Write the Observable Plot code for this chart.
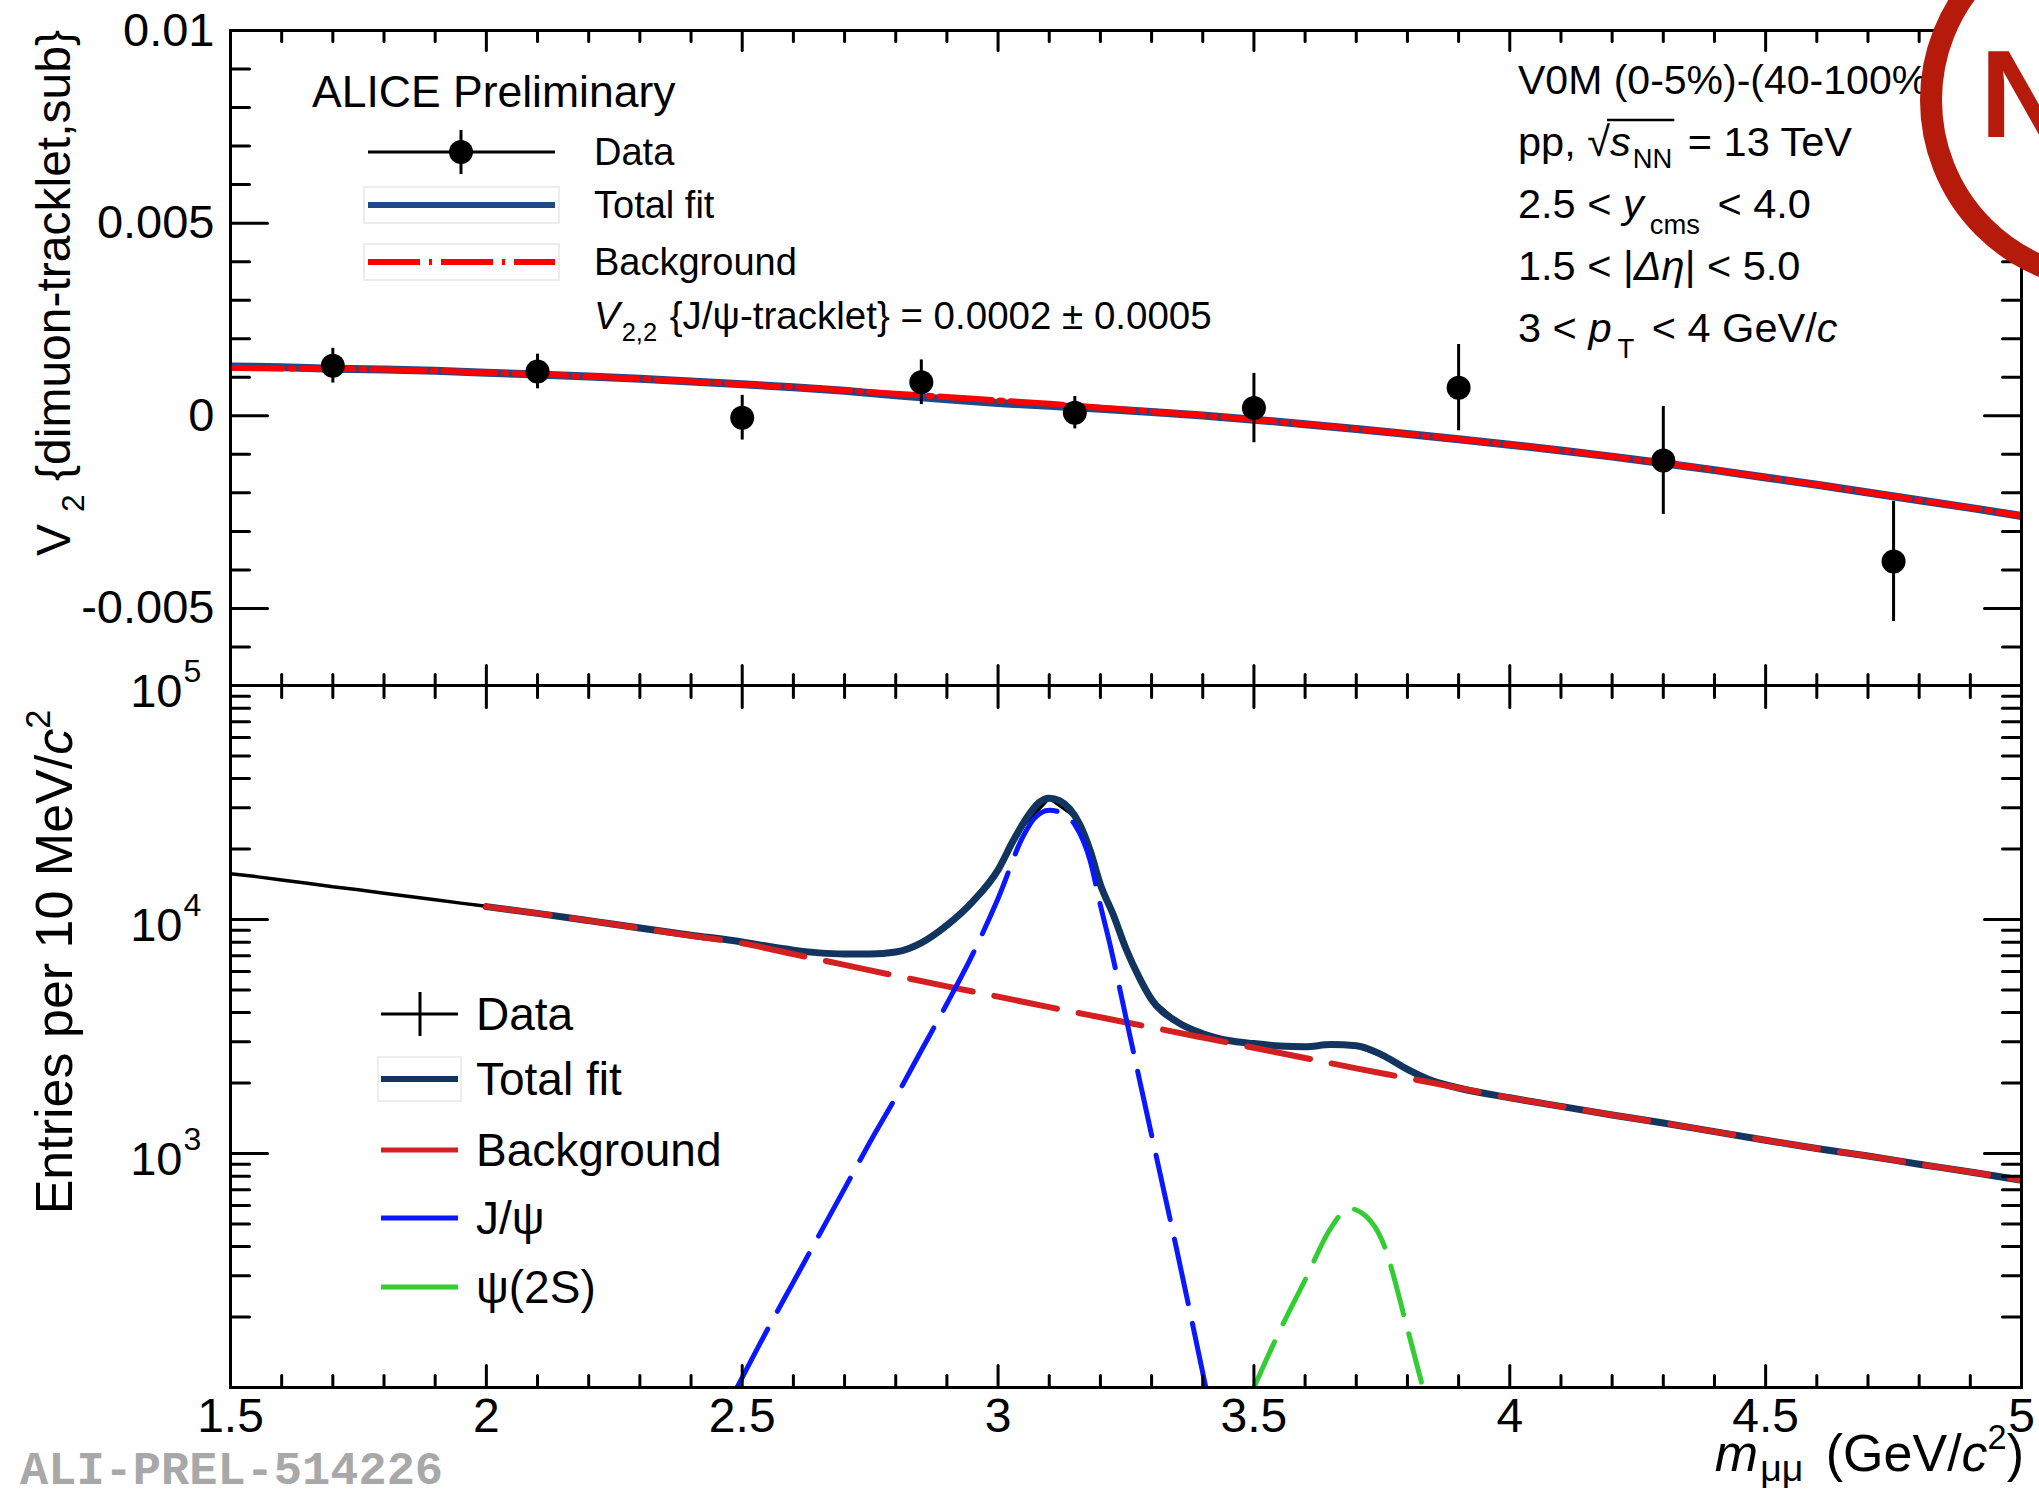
<!DOCTYPE html>
<html>
<head>
<meta charset="utf-8">
<script src="https://cdn.jsdelivr.net/npm/d3@7"></script>
<script src="https://cdn.jsdelivr.net/npm/@observablehq/plot@0.6"></script>
<style>
  html, body { margin: 0; padding: 0; background: #fff; }
  #chart { position: relative; width: 2039px; height: 1496px; background: #fff; overflow: hidden; }
  #chart svg { position: absolute; left: 0; }
</style>
</head>
<body>
<div id="chart"></div>
<script>
// ===================== DATA =====================
// Upper panel: V2 {dimuon-tracklet,sub} vs m_mumu
const v2Mass  = [1.7, 2.1, 2.5, 2.85, 3.15, 3.5, 3.9, 4.3, 4.75];
const v2Value = [0.00130, 0.00115, -0.00005, 0.00087, 0.00008, 0.00020, 0.00073, -0.00116, -0.00378];
const v2Error = [0.00045, 0.00045, 0.00058, 0.00058, 0.00042, 0.00090, 0.00112, 0.00140, 0.00156];

const v2FitMass = [1.5,1.6,1.7,1.8,1.9,2.0,2.1,2.2,2.3,2.4,2.5,2.6,2.7,2.8,2.9,3.0,3.1,3.2,3.3,3.4,3.5,3.6,3.7,3.8,3.9,4.0,4.1,4.2,4.3,4.4,4.5,4.6,4.7,4.8,4.9,5.0];
const v2Background = [0.00124,0.00123,0.00122,0.00120,0.00117,0.00112,0.00108,0.00102,0.00096,0.00089,0.00082,0.00074,0.00066,0.00057,0.00049,0.00040,0.00031,0.00021,0.00011,0.00001,-0.00010,-0.00022,-0.00034,-0.00047,-0.00061,-0.00075,-0.00090,-0.00106,-0.00123,-0.00141,-0.00160,-0.00179,-0.00199,-0.00219,-0.00239,-0.00260];
const v2TotalFit   = [0.00128,0.00126,0.00122,0.00120,0.00117,0.00112,0.00107,0.00102,0.00096,0.00089,0.00082,0.00074,0.00065,0.00053,0.00043,0.00033,0.00026,0.00018,0.00010,0.00001,-0.00010,-0.00022,-0.00034,-0.00047,-0.00061,-0.00075,-0.00090,-0.00106,-0.00123,-0.00141,-0.00160,-0.00179,-0.00199,-0.00219,-0.00239,-0.00260];

// Lower panel: entries per 10 MeV/c^2 vs m_mumu
const dataMass = [1.50,1.55,1.60,1.65,1.70,1.75,1.80,1.85,1.90,1.95,2.00,2.05,2.10,2.15,2.20,2.25,2.30,2.35,2.40,2.45,2.50,2.55,2.60,2.65,2.70,2.75,2.80,2.85,2.90,2.95,3.00,3.05,3.10,3.15,3.20,3.25,3.30,3.35,3.40,3.45,3.50,3.55,3.60,3.65,3.70,3.75,3.80,3.85,3.90,3.95,4.00,4.05,4.10,4.15,4.20,4.25,4.30,4.35,4.40,4.45,4.50,4.55,4.60,4.65,4.70,4.75,4.80,4.85,4.90,4.95,5.00];
const dataCounts = [15700,15250,14750,14300,13800,13400,12950,12550,12150,11750,11400,10950,10650,10230,9900,9500,9200,8880,8560,8300,8000,7700,7400,7180,7130,7100,7270,7950,9400,11900,16400,25300,33000,27600,14000,7450,4560,3660,3240,3050,2940,2900,2850,2930,2880,2620,2300,2050,1890,1830,1720,1680,1580,1530,1450,1410,1340,1300,1250,1180,1150,1090,1060,1005,980,930,905,860,840,795,775];

const totalMass   = [2.00,2.10,2.20,2.30,2.40,2.50,2.55,2.60,2.65,2.70,2.75,2.80,2.85,2.90,2.95,3.00,3.03,3.06,3.08,3.10,3.12,3.14,3.16,3.18,3.20,3.225,3.25,3.275,3.30,3.35,3.40,3.45,3.50,3.55,3.60,3.65,3.70,3.75,3.80,3.85,3.90,4.00,4.10,4.20,4.30,4.40,4.50,4.60,4.70,4.80,4.90,5.00];
const totalCounts = [11350,10620,9890,9190,8570,8020,7680,7400,7200,7120,7120,7260,7950,9450,11900,16300,21800,28000,31600,33000,32200,29700,25400,19700,14100,10500,7500,5700,4550,3650,3250,3040,2950,2880,2860,2920,2890,2640,2290,2040,1905,1730,1590,1460,1350,1240,1140,1050,975,900,834,769];

const bkgMass   = [2.0,2.1,2.2,2.3,2.4,2.5,2.6,2.7,2.8,2.9,3.0,3.1,3.2,3.3,3.4,3.5,3.6,3.7,3.8,3.9,4.0,4.1,4.2,4.3,4.4,4.5,4.6,4.7,4.8,4.9,5.0];
const bkgCounts = [11350,10620,9890,9180,8530,7910,7110,6400,5750,5180,4680,4220,3820,3460,3130,2830,2560,2310,2100,1905,1730,1590,1460,1350,1240,1140,1050,975,900,834,769];

const jpsiMass   = [2.49,2.55,2.60,2.65,2.70,2.75,2.80,2.85,2.90,2.95,3.00,3.05,3.07,3.10,3.13,3.15,3.18,3.20,3.22,3.25,3.28,3.30,3.35,3.406];
const jpsiCounts = [100,178,282,447,708,1122,1738,2754,4365,7080,12300,22900,26900,29300,28200,25400,17800,11500,7600,3800,1900,1200,380,100];

const psi2sMass   = [3.50,3.55,3.60,3.65,3.686,3.72,3.75,3.80,3.83];
const psi2sCounts = [100,174,288,479,582,537,427,178,100];

// Axis ticks and labels
const xMajorTicks = [1.5, 2, 2.5, 3, 3.5, 4, 4.5, 5];
const xTickLabels = ["1.5", "2", "2.5", "3", "3.5", "4", "4.5", "5"];
const v2MajorTicks = [-0.005, 0, 0.005, 0.01];
const v2TickLabels = ["-0.005", "0", "0.005", "0.01"];
const countMajorTicks = [1e3, 1e4, 1e5];
const countTickBase = ["10", "10", "10"];
const countTickExponent = ["3", "4", "5"];

// Legends and annotations
const topLegendLabels = ["Data", "Total fit", "Background"];
const lowLegendLabels = ["Data", "Total fit", "Background", "J/ψ", "ψ(2S)"];

// ===================== STYLE =====================
const W = 2039, H = 1496;
const FONT = '"Liberation Sans", Arial, Helvetica, sans-serif';
const C_TOTAL_TOP = "#1d4b86";
const C_RED_TOP = "#ff0000";
const C_TOTAL = "#12355f";
const C_BKG = "#d42020";
const C_JPSI = "#0a18ff";
const C_PSI2S = "#33cc33";
const C_LOGO = "#b51a0a";

const xMinorTicks = d3.range(15, 51).filter(d => d % 5 !== 0).map(d => d / 10);
const v2MinorTicks = d3.range(-6, 10).filter(d => d % 5 !== 0).map(d => d / 1000);
const countMinorTicks = [100, 1000, 10000].flatMap(b => d3.range(2, 10).map(k => k * b));

const tickShape = {draw(ctx, l) { ctx.moveTo(0, 0); ctx.lineTo(0, -l); }};
function yTicks(values, len, side) {
  return Plot.vector(values, {y: d => d, frameAnchor: side, rotate: side === "left" ? 90 : -90,
    length: len, anchor: "start", shape: tickShape, stroke: "black", strokeWidth: 3});
}
function xTicks(values, len, side) {
  return Plot.vector(values, {x: d => d, frameAnchor: side, rotate: side === "bottom" ? 0 : 180,
    length: len, anchor: "start", shape: tickShape, stroke: "black", strokeWidth: 3});
}
function frameMarks(yMajor, yMinor, xLen) {
  return [
    Plot.frame({stroke: "black", strokeWidth: 3}),
    yTicks(yMajor, 37, "left"), yTicks(yMinor, 19, "left"),
    yTicks(yMajor, 37, "right"), yTicks(yMinor, 19, "right"),
    xTicks(xMajorTicks, xLen, "bottom"), xTicks(xMinorTicks, Math.round(xLen * 0.55), "bottom"),
    xTicks(xMajorTicks, xLen, "top"), xTicks(xMinorTicks, Math.round(xLen * 0.55), "top")
  ];
}

const xLabel = new Map(xMajorTicks.map((d, i) => [d, xTickLabels[i]]));
const v2Label = new Map(v2MajorTicks.map((d, i) => [d, v2TickLabels[i]]));
const countBase = new Map(countMajorTicks.map((d, i) => [d, countTickBase[i]]));
const countExp = new Map(countMajorTicks.map((d, i) => [d, countTickExponent[i]]));

// ===================== TABLES =====================
const v2Points = v2Mass.map((m, i) => ({m, v: v2Value[i], e: v2Error[i]}));
const v2Fit = v2FitMass.map((m, i) => ({m, bkg: v2Background[i], tot: v2TotalFit[i]}));
const dataRows = dataMass.map((m, i) => ({m, n: dataCounts[i]}));
const totalRows = totalMass.map((m, i) => ({m, n: totalCounts[i]}));
const bkgRows = bkgMass.map((m, i) => ({m, n: bkgCounts[i]}));
const jpsiRows = jpsiMass.map((m, i) => ({m, n: jpsiCounts[i]}));
const psi2sRows = psi2sMass.map((m, i) => ({m, n: psi2sCounts[i]}));

const baseStyle = {background: "transparent", fontFamily: FONT, overflow: "visible", color: "black"};

// ===================== UPPER PANEL =====================
const topChart = Plot.plot({
  width: W, height: 700,
  marginTop: 30, marginBottom: 15, marginLeft: 230, marginRight: 18,
  style: baseStyle,
  x: {domain: [1.5, 5], axis: null},
  y: {domain: [-0.007, 0.01]},
  marks: [
    Plot.line(v2Fit, {x: "m", y: "tot", stroke: C_TOTAL_TOP, strokeWidth: 8, curve: "linear", clip: true}),
    Plot.line(v2Fit, {x: "m", y: "bkg", stroke: C_RED_TOP, strokeWidth: 6, strokeDasharray: "52,8,3,8", curve: "monotone-x", clip: true}),
    Plot.ruleX(v2Points, {x: "m", y1: d => d.v - d.e, y2: d => d.v + d.e, stroke: "black", strokeWidth: 3}),
    Plot.dot(v2Points, {x: "m", y: "v", r: 12, fill: "black", stroke: "none"}),
    ...frameMarks(v2MajorTicks, v2MinorTicks, 20),
    Plot.axisY({ticks: v2MajorTicks, tickSize: 0, tickPadding: 16, tickFormat: d => v2Label.get(d), fontSize: 47, label: null})
  ]
});

// ===================== LOWER PANEL =====================
const lowChart = Plot.plot({
  width: W, height: 841,
  marginTop: 30, marginBottom: 109, marginLeft: 230, marginRight: 18,
  style: baseStyle,
  x: {domain: [1.5, 5]},
  y: {type: "log", domain: [100, 100000]},
  marks: [
    Plot.line(dataRows, {x: "m", y: "n", stroke: "black", strokeWidth: 3.5, clip: true}),
    Plot.line(totalRows, {x: "m", y: "n", stroke: C_TOTAL, strokeWidth: 7, curve: "monotone-x", clip: true}),
    Plot.line(bkgRows, {x: "m", y: "n", stroke: C_BKG, strokeWidth: 6, strokeDasharray: "64,22", curve: "monotone-x", clip: true}),
    Plot.line(jpsiRows, {x: "m", y: "n", stroke: C_JPSI, strokeWidth: 5, strokeDasharray: "66,20", curve: "monotone-x", clip: true}),
    Plot.line(psi2sRows, {x: "m", y: "n", stroke: C_PSI2S, strokeWidth: 5, strokeDasharray: "50,20", curve: "monotone-x", clip: true}),
    ...frameMarks(countMajorTicks, countMinorTicks, 22),
    Plot.axisY({ticks: countMajorTicks, tickSize: 0, tickPadding: 48, dy: 6, tickFormat: d => countBase.get(d), fontSize: 47, label: null}),
    Plot.text(countMajorTicks, {y: d => d, frameAnchor: "left", text: d => countExp.get(d), textAnchor: "start", dx: -47, dy: -14, fontSize: 32}),
    Plot.axisX({ticks: xMajorTicks, tickSize: 0, tickPadding: 10, tickFormat: d => xLabel.get(d), fontSize: 48, label: null})
  ]
});

const chart = document.getElementById("chart");
topChart.style.top = "0px";
lowChart.style.top = "655px";
chart.appendChild(topChart);
chart.appendChild(lowChart);

// ===================== OVERLAY: titles, legends, labels =====================
const overlay = d3.select(chart).append("svg")
  .attr("width", W).attr("height", H)
  .style("top", "0px").style("pointer-events", "none")
  .attr("font-family", FONT);

function rich(g, x, y, parts, {size = 38, anchor = "start", fill = "#000", weight = null, family = null, rotate = 0} = {}) {
  const t = g.append("text").attr("x", x).attr("y", y).attr("font-size", size)
    .attr("text-anchor", anchor).attr("fill", fill);
  if (weight) t.attr("font-weight", weight);
  if (family) t.attr("font-family", family);
  if (rotate) t.attr("transform", `rotate(${rotate},${x},${y})`);
  let shift = 0;
  for (const p of parts) {
    const s = p.sub ? size * (p.drop || 0.3) : p.sup ? -size * 0.42 : 0;
    const ts = t.append("tspan").text(p.t).attr("dy", s - shift);
    shift = s;
    if (p.sub || p.sup) ts.attr("font-size", size * (p.scale || 0.66));
    if (p.it) ts.attr("font-style", "italic");
    if (p.dx) ts.attr("dx", p.dx);
  }
  return t;
}

// Upper-left legend
rich(overlay, 312, 107, [{t: "ALICE Preliminary"}], {size: 44.5});
const topLegendY = [152, 205, 262];
const tlx0 = 368, tlx1 = 555, tlText = 594;
topLegendLabels.forEach((lab, i) => {
  const y = topLegendY[i];
  if (i === 0) {
    overlay.append("line").attr("x1", tlx0).attr("x2", tlx1).attr("y1", y).attr("y2", y).attr("stroke", "black").attr("stroke-width", 3);
    overlay.append("line").attr("x1", 461).attr("x2", 461).attr("y1", y - 22).attr("y2", y + 22).attr("stroke", "black").attr("stroke-width", 3);
    overlay.append("circle").attr("cx", 461).attr("cy", y).attr("r", 12).attr("fill", "black");
  } else {
    overlay.append("rect").attr("x", tlx0 - 4).attr("y", y - 18).attr("width", tlx1 - tlx0 + 8).attr("height", 36)
      .attr("fill", "none").attr("stroke", "#ececec").attr("stroke-width", 2);
    overlay.append("line").attr("x1", tlx0).attr("x2", tlx1).attr("y1", y).attr("y2", y)
      .attr("stroke", i === 1 ? C_TOTAL_TOP : C_RED_TOP).attr("stroke-width", 6)
      .attr("stroke-dasharray", i === 2 ? "52,9,3,9" : null);
  }
  rich(overlay, tlText, y + 13, [{t: lab}], {size: 38});
});
rich(overlay, tlText, 329, [{t: "V", it: true}, {t: "2,2", sub: true, dx: 2}, {t: " {J/ψ-tracklet} = 0.0002 ± 0.0005", dx: 2}], {size: 38.5});

// Upper-right text block
const rx = 1518;
rich(overlay, rx, 94, [{t: "V0M (0-5%)-(40-100%)"}], {size: 41});
const ppLine = rich(overlay, rx, 156, [{t: "pp, √"}, {t: "s", it: true}, {t: "NN", sub: true, dx: 2}, {t: " = 13 TeV", dx: 4}], {size: 41.5});
rich(overlay, rx, 218, [{t: "2.5 < "}, {t: "y", it: true}, {t: "cms", sub: true, dx: 6, drop: 0.38}, {t: " < 4.0", dx: 6}], {size: 41.5});
rich(overlay, rx, 280, [{t: "1.5 < |"}, {t: "Δη", it: true}, {t: "| < 5.0"}], {size: 41.5});
rich(overlay, rx, 342, [{t: "3 < "}, {t: "p", it: true}, {t: "T", sub: true, dx: 6, drop: 0.38}, {t: " < 4 GeV/", dx: 6}, {t: "c", it: true}], {size: 41.5});
try {
  const n = ppLine.node();
  const xa = n.getEndPositionOfChar(4).x - 3;
  const xb = n.getEndPositionOfChar(7).x + 2;
  overlay.append("line").attr("x1", xa).attr("x2", xb).attr("y1", 156 - 36).attr("y2", 156 - 36)
    .attr("stroke", "black").attr("stroke-width", 2.5);
} catch (e) {}

// Lower legend
const lowLegendY = [1014, 1079, 1150, 1218, 1287];
const llColors = [null, C_TOTAL, C_BKG, C_JPSI, C_PSI2S];
const llx0 = 381, llx1 = 458, llText = 476;
lowLegendLabels.forEach((lab, i) => {
  const y = lowLegendY[i];
  if (i === 0) {
    overlay.append("line").attr("x1", llx0).attr("x2", llx1).attr("y1", y).attr("y2", y).attr("stroke", "black").attr("stroke-width", 3);
    overlay.append("line").attr("x1", 420).attr("x2", 420).attr("y1", y - 22).attr("y2", y + 22).attr("stroke", "black").attr("stroke-width", 3);
  } else {
    if (i === 1) overlay.append("rect").attr("x", llx0 - 3).attr("y", y - 22).attr("width", llx1 - llx0 + 6).attr("height", 44)
      .attr("fill", "none").attr("stroke", "#ededed").attr("stroke-width", 2);
    overlay.append("line").attr("x1", llx0).attr("x2", llx1).attr("y1", y).attr("y2", y)
      .attr("stroke", llColors[i]).attr("stroke-width", i === 1 ? 6 : 5);
  }
  rich(overlay, llText, y + 16, [{t: lab}], {size: 46});
});

// Axis titles
rich(overlay, 70, 293, [{t: "V"}, {t: "2", sub: true, dx: 12}, {t: " {dimuon-tracklet,sub}"}], {size: 48, anchor: "middle", rotate: -90});
rich(overlay, 72, 962, [{t: "Entries per 10 MeV/"}, {t: "c", it: true}, {t: "2", sup: true}], {size: 52, anchor: "middle", rotate: -90});
rich(overlay, 2024, 1471, [{t: "m", it: true}, {t: "μμ", sub: true, scale: 0.72, dx: 2, drop: 0.2}, {t: " (GeV/", dx: 8}, {t: "c", it: true}, {t: "2", sup: true}, {t: ")"}], {size: 52, anchor: "end"});

// Reference tag
rich(overlay, 20, 1484, [{t: "ALI-PREL-514226"}], {size: 47, fill: "#a8a8a8", weight: "bold", family: '"Liberation Mono", "DejaVu Sans Mono", monospace'});

// Logo (partial circle at upper right)
overlay.append("circle").attr("cx", 2111).attr("cy", 100).attr("r", 180)
  .attr("fill", "#fff").attr("stroke", C_LOGO).attr("stroke-width", 22);
overlay.append("text").attr("x", 1980).attr("y", 137).attr("font-size", 124)
  .attr("font-weight", "bold").attr("fill", C_LOGO).text("N");
</script>
</body>
</html>
